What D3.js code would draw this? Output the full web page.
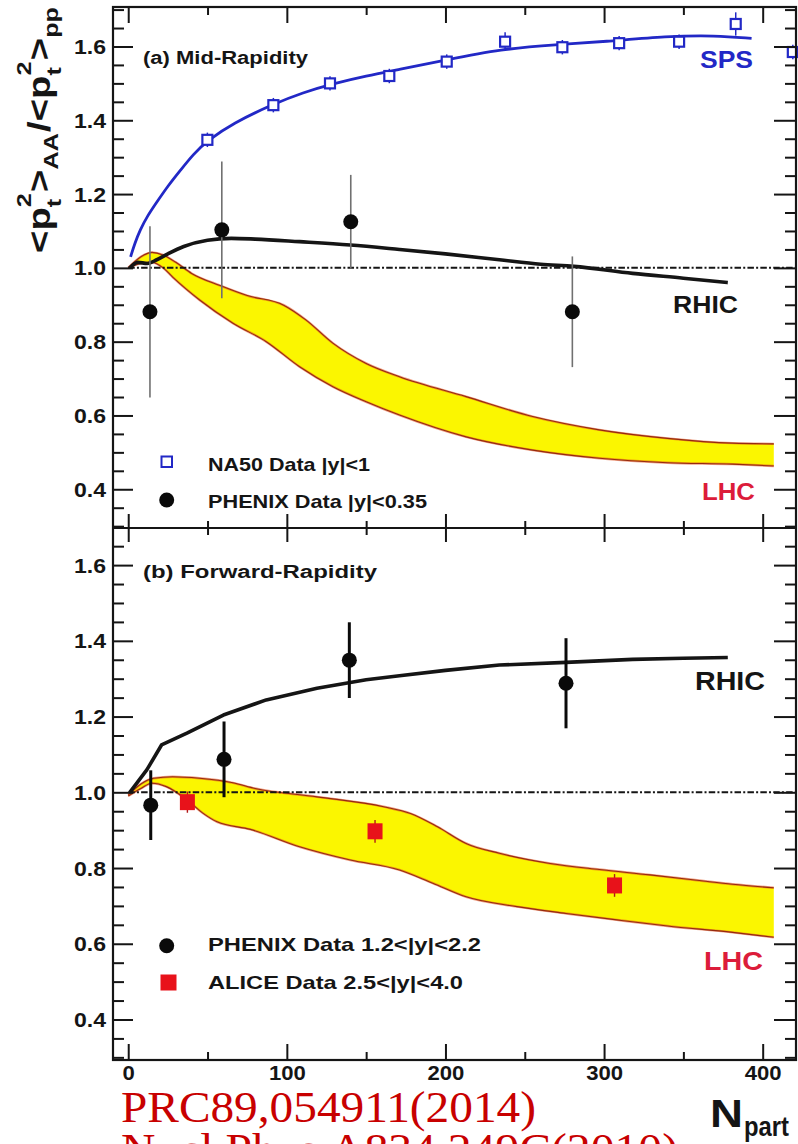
<!DOCTYPE html>
<html>
<head>
<meta charset="utf-8">
<script src="https://cdn.jsdelivr.net/npm/d3@7"></script>
<style>
  html, body { margin: 0; padding: 0; background: #fff; }
  svg { display: block; }
</style>
</head>
<body>
<svg id="chart" width="798" height="1144"></svg>
<script>
// ---------------- axis ticks ----------------
const nTickMajor = [0, 100, 200, 300, 400];
const nTickMinor = [50, 150, 250, 350];
const ratioTickMajor = [0.4, 0.6, 0.8, 1.0, 1.2, 1.4, 1.6];
const ratioTickMinor = [0.30, 0.35, 0.45, 0.50, 0.55, 0.65, 0.70, 0.75, 0.85, 0.90, 0.95,
                        1.05, 1.10, 1.15, 1.25, 1.30, 1.35, 1.45, 1.50, 1.55, 1.65, 1.70];

// ---------------- (a) mid-rapidity ----------------
// NA50 data |y|<1
const na50N   = [49.9, 91.5, 127.2, 164.6, 200.8, 237.6, 273.7, 309.5, 347.3, 383.0, 419.0];
const na50R   = [1.347, 1.441, 1.500, 1.520, 1.559, 1.613, 1.598, 1.609, 1.613, 1.661, 1.585];
const na50Err = [0.006, 0.006, 0.006, 0.006, 0.006, 0.012, 0.006, 0.006, 0.006, 0.018, 0.006];
// PHENIX data |y|<0.35
const phxMidN   = [13.7, 59.0, 140.3, 280.0];
const phxMidR   = [0.881, 1.103, 1.125, 0.881];
const phxMidErr = [0.232, 0.185, 0.127, 0.150];
// SPS calculation
const spsN = [1.5, 4, 7.5, 12, 18, 25, 33, 41, 50, 66, 91, 110, 130, 150, 170, 200, 235, 270, 300, 340, 370, 393];
const spsR = [1.03, 1.065, 1.103, 1.14, 1.178, 1.222, 1.265, 1.308, 1.345, 1.392, 1.443, 1.475, 1.50,
              1.52, 1.537, 1.563, 1.593, 1.605, 1.613, 1.628, 1.630, 1.622];
// RHIC calculation, mid-rapidity
const rhicMidN = [1, 6, 12, 18, 25, 35, 50, 65, 80, 108, 140, 171, 200, 234, 260, 281, 318, 350, 378];
const rhicMidR = [1.0, 1.015, 1.012, 1.022, 1.038, 1.058, 1.075, 1.08, 1.078, 1.071, 1.062, 1.05,
                  1.038, 1.022, 1.01, 1.004, 0.985, 0.972, 0.960];
// LHC band, mid-rapidity
const lhcMidUpN = [0, 8, 15, 22, 30, 40, 58, 75, 98, 112, 129, 150, 171, 213, 255, 297, 340, 381, 407];
const lhcMidUpR = [1.0, 1.03, 1.042, 1.035, 1.015, 0.985, 0.952, 0.925, 0.899, 0.859, 0.796, 0.741,
                   0.705, 0.651, 0.597, 0.561, 0.538, 0.525, 0.523];
const lhcMidLoN = [0, 8, 15, 22, 28, 45, 66, 87, 108, 129, 150, 171, 213, 255, 297, 340, 381, 407];
const lhcMidLoR = [1.0, 1.012, 1.015, 1.0, 0.975, 0.913, 0.85, 0.80, 0.732, 0.678, 0.637, 0.601,
                   0.542, 0.506, 0.484, 0.472, 0.468, 0.463];

// ---------------- (b) forward-rapidity ----------------
// PHENIX data 1.2<|y|<2.2
const phxFwdN   = [14.2, 60.4, 139.4, 276.0];
const phxFwdR   = [0.966, 1.087, 1.349, 1.288];
const phxFwdErr = [0.092, 0.100, 0.100, 0.119];
// ALICE data 2.5<|y|<4.0
const aliceN   = [37.3, 155.6, 306.6];
const aliceR   = [0.974, 0.897, 0.754];
const aliceErr = [0.028, 0.030, 0.030];
// RHIC calculation, forward
const rhicFwdN = [1, 11.7, 21, 37, 60, 87, 119, 150, 171, 200, 234, 276, 318, 350, 378];
const rhicFwdR = [1.0, 1.059, 1.125, 1.156, 1.204, 1.244, 1.275, 1.297, 1.308, 1.322, 1.336, 1.343,
                  1.351, 1.354, 1.356];
// LHC band, forward
const lhcFwdUpN = [0, 8, 16, 28, 45, 66, 80, 119, 161, 178, 195, 213, 234, 266, 297, 329, 360, 381, 407];
const lhcFwdUpR = [0.993, 1.022, 1.037, 1.041, 1.037, 1.025, 1.01, 0.988, 0.962, 0.944, 0.909, 0.865,
                   0.839, 0.812, 0.796, 0.782, 0.767, 0.757, 0.748];
const lhcFwdLoN = [0, 8, 15, 24, 37, 47, 56, 77, 108, 140, 171, 192, 213, 245, 276, 308, 340, 381, 407];
const lhcFwdLoR = [0.99, 1.01, 1.024, 1.015, 0.98, 0.945, 0.922, 0.902, 0.856, 0.821, 0.795, 0.76,
                   0.724, 0.698, 0.68, 0.663, 0.647, 0.63, 0.617];

// ---------------- setup ----------------
const FONT = '"Liberation Sans", Arial, Helvetica, sans-serif';
const INK = "#151515";
const BLUE = "#2228c6";
const svg = d3.select("#chart");

const x  = d3.scaleLinear().domain([-9.6, 421.0]).range([113, 796]);
const yA = d3.scaleLinear().domain([0.295, 1.707]).range([528, 7]);
const yB = d3.scaleLinear().domain([0.293, 1.698]).range([1060, 528]);

function fit(sel, w) {
  return sel.attr("textLength", w).attr("lengthAdjust", "spacingAndGlyphs");
}
function addText(str, px, py, size, w, fill, family) {
  const t = svg.append("text")
    .attr("x", px).attr("y", py)
    .attr("font-family", family || FONT)
    .attr("font-weight", family ? "normal" : "bold")
    .attr("font-size", size)
    .attr("fill", fill || INK)
    .text(str);
  if (w) fit(t, w);
  return t;
}
function styleAxis(g) {
  g.select(".domain").remove();
  g.selectAll(".tick line").attr("stroke", INK).attr("stroke-width", 2);
  g.attr("font-family", FONT).attr("font-weight", "bold").attr("font-size", 19.5);
  g.selectAll(".tick text").attr("fill", INK);
  return g;
}
function inDomain(y, vals) {
  const [a, b] = y.domain();
  return vals.filter(v => v >= a && v <= b);
}

const lineOf = (y, curve) => d3.line().x(d => x(d[0])).y(d => y(d[1])).curve(curve || d3.curveMonotoneX);

function bandPath(y, upN, upR, loN, loR) {
  const ln = lineOf(y);
  const up = ln(d3.zip(upN, upR));
  const lo = ln(d3.zip(loN, loR).reverse());
  return up + "L" + lo.slice(1) + "Z";
}

function drawPanel(y, d) {
  const g = svg.append("g");
  // LHC band
  g.append("path").attr("d", bandPath(y, d.upN, d.upR, d.loN, d.loR))
    .attr("fill", "#fbf600").attr("stroke", "none");
  [[d.upN, d.upR], [d.loN, d.loR]].forEach(([n, r]) => {
    g.append("path").attr("d", lineOf(y)(d3.zip(n, r)))
      .attr("fill", "none").attr("stroke", "#e2501e").attr("stroke-width", 2.4).attr("opacity", 0.55);
    g.append("path").attr("d", lineOf(y)(d3.zip(n, r)))
      .attr("fill", "none").attr("stroke", "#962a12").attr("stroke-width", 1.1);
  });
  // unit ratio reference
  g.append("line")
    .attr("x1", x(0)).attr("x2", x(421) - 1)
    .attr("y1", y(1)).attr("y2", y(1))
    .attr("stroke", INK).attr("stroke-width", 2)
    .attr("stroke-dasharray", "6.5,2.2,2,2.2");
  return g;
}

// ---------------- panel (a) ----------------
const gA = drawPanel(yA, { upN: lhcMidUpN, upR: lhcMidUpR, loN: lhcMidLoN, loR: lhcMidLoR });
gA.append("path").attr("d", lineOf(yA, d3.curveBasis)(d3.zip(spsN, spsR)))
  .attr("fill", "none").attr("stroke", BLUE).attr("stroke-width", 2.8);
gA.append("path").attr("d", lineOf(yA)(d3.zip(rhicMidN, rhicMidR)))
  .attr("fill", "none").attr("stroke", INK).attr("stroke-width", 3.6);

phxMidN.forEach((n, i) => {
  gA.append("line").attr("x1", x(n)).attr("x2", x(n))
    .attr("y1", yA(phxMidR[i] + phxMidErr[i])).attr("y2", yA(phxMidR[i] - phxMidErr[i]))
    .attr("stroke", "#707070").attr("stroke-width", 1.6);
  gA.append("circle").attr("cx", x(n)).attr("cy", yA(phxMidR[i])).attr("r", 7.5).attr("fill", "#0a0a0a");
});
na50N.forEach((n, i) => {
  gA.append("line").attr("x1", x(n)).attr("x2", x(n))
    .attr("y1", yA(na50R[i] + na50Err[i]) - 5).attr("y2", yA(na50R[i] - na50Err[i]) + 5)
    .attr("stroke", BLUE).attr("stroke-width", 1.5);
  gA.append("rect").attr("x", x(n) - 5).attr("y", yA(na50R[i]) - 5)
    .attr("width", 10).attr("height", 10)
    .attr("fill", "#fff").attr("stroke", BLUE).attr("stroke-width", 2.2);
});

// ---------------- panel (b) ----------------
const gB = drawPanel(yB, { upN: lhcFwdUpN, upR: lhcFwdUpR, loN: lhcFwdLoN, loR: lhcFwdLoR });
gB.append("path").attr("d", lineOf(yB, d3.curveLinear)(d3.zip(rhicFwdN, rhicFwdR)))
  .attr("fill", "none").attr("stroke", INK).attr("stroke-width", 3.6).attr("stroke-linejoin", "round");

phxFwdN.forEach((n, i) => {
  gB.append("line").attr("x1", x(n)).attr("x2", x(n))
    .attr("y1", yB(phxFwdR[i] + phxFwdErr[i])).attr("y2", yB(phxFwdR[i] - phxFwdErr[i]))
    .attr("stroke", "#0a0a0a").attr("stroke-width", 3);
  gB.append("circle").attr("cx", x(n)).attr("cy", yB(phxFwdR[i])).attr("r", 7.5).attr("fill", "#0a0a0a");
});
aliceN.forEach((n, i) => {
  gB.append("line").attr("x1", x(n)).attr("x2", x(n))
    .attr("y1", yB(aliceR[i] + aliceErr[i])).attr("y2", yB(aliceR[i] - aliceErr[i]))
    .attr("stroke", "#b01818").attr("stroke-width", 1.4);
  gB.append("rect").attr("x", x(n) - 7.5).attr("y", yB(aliceR[i]) - 8)
    .attr("width", 15).attr("height", 16).attr("fill", "#e8121a");
});

// ---------------- axes ----------------
const xL = x.range()[0], xR = x.range()[1];
[yA, yB].forEach(y => {
  styleAxis(svg.append("g").attr("transform", `translate(${xL},0)`)
    .call(d3.axisLeft(y).tickValues(ratioTickMajor).tickSize(-20).tickPadding(7).tickFormat(d3.format(".1f"))))
    .selectAll(".tick text").attr("dy", "0.36em").call(s => fit(s, 32));
  styleAxis(svg.append("g").attr("transform", `translate(${xL},0)`)
    .call(d3.axisLeft(y).tickValues(inDomain(y, ratioTickMinor)).tickSize(-11).tickFormat("")));
  styleAxis(svg.append("g").attr("transform", `translate(${xR},0)`)
    .call(d3.axisRight(y).tickValues(ratioTickMajor).tickSize(-22).tickFormat("")));
  styleAxis(svg.append("g").attr("transform", `translate(${xR},0)`)
    .call(d3.axisRight(y).tickValues(inDomain(y, ratioTickMinor)).tickSize(-11).tickFormat("")));
});

const yTop = yA.range()[1], yMid = yA.range()[0], yBot = yB.range()[0];
// bottom axis with labels
styleAxis(svg.append("g").attr("transform", `translate(0,${yBot})`)
  .call(d3.axisBottom(x).tickValues(nTickMajor).tickSize(-16).tickPadding(6).tickFormat(d3.format("d"))))
  .attr("font-size", 20)
  .selectAll(".tick text").each(function (d) { fit(d3.select(this), String(d).length * 12.3); });
styleAxis(svg.append("g").attr("transform", `translate(0,${yBot})`)
  .call(d3.axisBottom(x).tickValues(nTickMinor).tickSize(-8).tickFormat("")));
// top axis
styleAxis(svg.append("g").attr("transform", `translate(0,${yTop})`)
  .call(d3.axisTop(x).tickValues(nTickMajor).tickSize(-16).tickFormat("")));
styleAxis(svg.append("g").attr("transform", `translate(0,${yTop})`)
  .call(d3.axisTop(x).tickValues(nTickMinor).tickSize(-8).tickFormat("")));
// shared boundary between panels: ticks both ways
[14, -14].forEach(s => styleAxis(svg.append("g").attr("transform", `translate(0,${yMid})`)
  .call(d3.axisBottom(x).tickValues(nTickMajor).tickSize(s).tickFormat(""))));
[7, -7].forEach(s => styleAxis(svg.append("g").attr("transform", `translate(0,${yMid})`)
  .call(d3.axisBottom(x).tickValues(nTickMinor).tickSize(s).tickFormat(""))));

// frame
svg.append("rect").attr("x", xL).attr("y", yTop).attr("width", xR - xL).attr("height", yBot - yTop)
  .attr("fill", "none").attr("stroke", INK).attr("stroke-width", 2.2);
svg.append("line").attr("x1", xL).attr("x2", xR).attr("y1", yMid).attr("y2", yMid)
  .attr("stroke", INK).attr("stroke-width", 2.2);

// ---------------- texts ----------------
addText("(a) Mid-Rapidity", 143, 64, 17.5, 165);
addText("(b) Forward-Rapidity", 143, 578, 17.5, 234);
addText("SPS", 700, 68, 24, 53, BLUE);
addText("RHIC", 673, 313, 24, 65);
addText("LHC", 702, 500, 24, 53, "#dc1c3a");
addText("RHIC", 695, 690, 26, 70);
addText("LHC", 704, 970, 26, 59, "#dc1c3a");

// legends
svg.append("rect").attr("x", 161.5).attr("y", 456.5).attr("width", 10.5).attr("height", 10.5)
  .attr("fill", "#fff").attr("stroke", BLUE).attr("stroke-width", 2);
addText("NA50 Data |y|<1", 208, 471, 18.5, 162);
svg.append("circle").attr("cx", 166.7).attr("cy", 500).attr("r", 7.5).attr("fill", "#0a0a0a");
addText("PHENIX Data |y|<0.35", 208, 508, 18.5, 219);

svg.append("circle").attr("cx", 166.7).attr("cy", 945.7).attr("r", 7.5).attr("fill", "#0a0a0a");
addText("PHENIX Data 1.2<|y|<2.2", 208, 951, 18.5, 273);
svg.append("rect").attr("x", 160.5).attr("y", 974.5).attr("width", 16).attr("height", 16).attr("fill", "#e8121a");
addText("ALICE Data 2.5<|y|<4.0", 208, 989, 18.5, 255);

// x axis title
addText("N", 710, 1127, 38, 33);
addText("part", 744, 1136, 28, 45);

// y axis title: <p_t^2>_AA / <p_t^2>_pp, reading bottom to top
const gY = svg.append("g");
const yt = gY.append("text")
  .attr("font-family", FONT).attr("font-weight", "bold").attr("font-size", 32).attr("fill", INK);
const S = 32, s = 21, w2 = 0.556 * s, wt = 0.333 * s;
function pt(t) {
  t.append("tspan").attr("y", 0).attr("font-size", S).text("<p");
  t.append("tspan").attr("y", -19).attr("font-size", s).text("2");
  t.append("tspan").attr("y", 11).attr("dx", -w2).attr("font-size", s).text("t");
  t.append("tspan").attr("y", 0).attr("dx", w2 - wt + 1).attr("font-size", S).text(">");
}
pt(yt);
yt.append("tspan").attr("y", 8).attr("font-size", s).text("AA");
yt.append("tspan").attr("y", 0).attr("dx", 1).attr("font-size", S).text("/");
pt(yt);
yt.append("tspan").attr("y", 8).attr("font-size", s).text("pp");
const natural = yt.node().getBBox().width;
gY.attr("transform", `translate(50,253) rotate(-90) scale(${246 / natural},1)`);

// references
addText("PRC89,054911(2014)", 121, 1122, 45, 415, "#c80000", '"Liberation Serif", "Times New Roman", serif');
addText("Nucl.Phys.A834,249C(2010)", 121, 1164, 45, 557, "#c80000", '"Liberation Serif", "Times New Roman", serif');
</script>
</body>
</html>
